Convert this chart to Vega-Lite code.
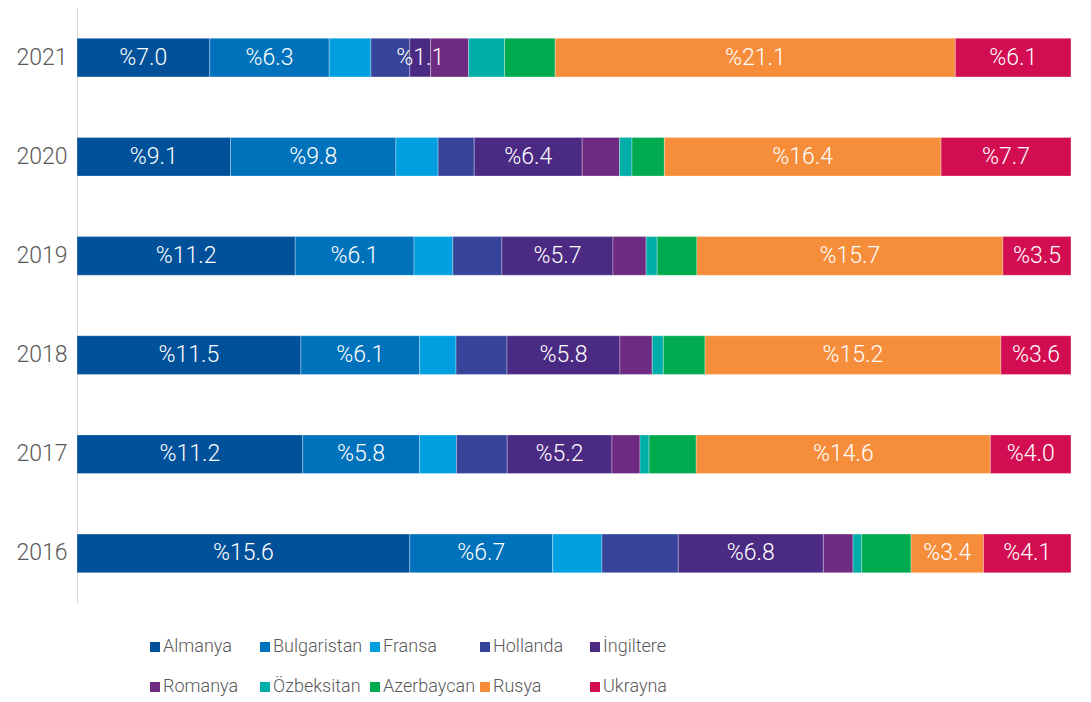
{
  "$schema": "https://vega.github.io/schema/vega-lite/v6.json",
  "width": 994,
  "height": 595,
  "autosize": {"type": "none"},
  "padding": {"left": 77, "top": 8, "right": 20, "bottom": 99},
  "background": "white",
  "config": {
    "view": {"stroke": null},
    "font": "Roboto",
    "axis": {"labelFont": "Roboto", "titleFont": "Roboto"},
    "legend": {"labelFont": "Roboto"}
  },
  "data": {
    "values": [
      {"year": "2021", "country": "Almanya", "o": 1, "v": 7.0},
      {"year": "2021", "country": "Bulgaristan", "o": 2, "v": 6.3},
      {"year": "2021", "country": "Fransa", "o": 3, "v": 2.2},
      {"year": "2021", "country": "Hollanda", "o": 4, "v": 2.05},
      {"year": "2021", "country": "İngiltere", "o": 5, "v": 1.1},
      {"year": "2021", "country": "Romanya", "o": 6, "v": 2.0},
      {"year": "2021", "country": "Özbeksitan", "o": 7, "v": 1.9},
      {"year": "2021", "country": "Azerbaycan", "o": 8, "v": 2.67},
      {"year": "2021", "country": "Rusya", "o": 9, "v": 21.1},
      {"year": "2021", "country": "Ukrayna", "o": 10, "v": 6.1},

      {"year": "2020", "country": "Almanya", "o": 1, "v": 9.1},
      {"year": "2020", "country": "Bulgaristan", "o": 2, "v": 9.8},
      {"year": "2020", "country": "Fransa", "o": 3, "v": 2.5},
      {"year": "2020", "country": "Hollanda", "o": 4, "v": 2.14},
      {"year": "2020", "country": "İngiltere", "o": 5, "v": 6.4},
      {"year": "2020", "country": "Romanya", "o": 6, "v": 2.21},
      {"year": "2020", "country": "Özbeksitan", "o": 7, "v": 0.74},
      {"year": "2020", "country": "Azerbaycan", "o": 8, "v": 1.92},
      {"year": "2020", "country": "Rusya", "o": 9, "v": 16.4},
      {"year": "2020", "country": "Ukrayna", "o": 10, "v": 7.7},

      {"year": "2019", "country": "Almanya", "o": 1, "v": 11.2},
      {"year": "2019", "country": "Bulgaristan", "o": 2, "v": 6.1},
      {"year": "2019", "country": "Fransa", "o": 3, "v": 1.99},
      {"year": "2019", "country": "Hollanda", "o": 4, "v": 2.52},
      {"year": "2019", "country": "İngiltere", "o": 5, "v": 5.7},
      {"year": "2019", "country": "Romanya", "o": 6, "v": 1.7},
      {"year": "2019", "country": "Özbeksitan", "o": 7, "v": 0.57},
      {"year": "2019", "country": "Azerbaycan", "o": 8, "v": 2.04},
      {"year": "2019", "country": "Rusya", "o": 9, "v": 15.7},
      {"year": "2019", "country": "Ukrayna", "o": 10, "v": 3.5},

      {"year": "2018", "country": "Almanya", "o": 1, "v": 11.5},
      {"year": "2018", "country": "Bulgaristan", "o": 2, "v": 6.1},
      {"year": "2018", "country": "Fransa", "o": 3, "v": 1.87},
      {"year": "2018", "country": "Hollanda", "o": 4, "v": 2.62},
      {"year": "2018", "country": "İngiltere", "o": 5, "v": 5.8},
      {"year": "2018", "country": "Romanya", "o": 6, "v": 1.66},
      {"year": "2018", "country": "Özbeksitan", "o": 7, "v": 0.57},
      {"year": "2018", "country": "Azerbaycan", "o": 8, "v": 2.14},
      {"year": "2018", "country": "Rusya", "o": 9, "v": 15.2},
      {"year": "2018", "country": "Ukrayna", "o": 10, "v": 3.6},

      {"year": "2017", "country": "Almanya", "o": 1, "v": 11.2},
      {"year": "2017", "country": "Bulgaristan", "o": 2, "v": 5.8},
      {"year": "2017", "country": "Fransa", "o": 3, "v": 1.83},
      {"year": "2017", "country": "Hollanda", "o": 4, "v": 2.52},
      {"year": "2017", "country": "İngiltere", "o": 5, "v": 5.2},
      {"year": "2017", "country": "Romanya", "o": 6, "v": 1.39},
      {"year": "2017", "country": "Özbeksitan", "o": 7, "v": 0.45},
      {"year": "2017", "country": "Azerbaycan", "o": 8, "v": 2.34},
      {"year": "2017", "country": "Rusya", "o": 9, "v": 14.6},
      {"year": "2017", "country": "Ukrayna", "o": 10, "v": 4.0},

      {"year": "2016", "country": "Almanya", "o": 1, "v": 15.6},
      {"year": "2016", "country": "Bulgaristan", "o": 2, "v": 6.7},
      {"year": "2016", "country": "Fransa", "o": 3, "v": 2.31},
      {"year": "2016", "country": "Hollanda", "o": 4, "v": 3.58},
      {"year": "2016", "country": "İngiltere", "o": 5, "v": 6.8},
      {"year": "2016", "country": "Romanya", "o": 6, "v": 1.39},
      {"year": "2016", "country": "Özbeksitan", "o": 7, "v": 0.41},
      {"year": "2016", "country": "Azerbaycan", "o": 8, "v": 2.31},
      {"year": "2016", "country": "Rusya", "o": 9, "v": 3.4},
      {"year": "2016", "country": "Ukrayna", "o": 10, "v": 4.1}
    ]
  },
  "transform": [
    {"stack": "v", "groupby": ["year"], "sort": [{"field": "o", "order": "ascending"}], "as": ["v0", "v1"], "offset": "normalize"},
    {"calculate": "(datum.v0 + datum.v1) / 2", "as": "mid"},
    {"calculate": "'%' + format(datum.v, '.1f')", "as": "label"}
  ],
  "encoding": {
    "y": {
      "field": "year",
      "type": "ordinal",
      "sort": "descending",
      "title": null,
      "scale": {"paddingInner": 0.61, "paddingOuter": 0.305},
      "axis": {
        "ticks": false,
        "domainColor": "#d9d9d9",
        "domainWidth": 1,
        "labelFontSize": 23,
        "labelColor": "#595959",
        "labelPadding": 10,
        "labelFontWeight": 300
      }
    }
  },
  "layer": [
    {
      "mark": {"type": "bar", "stroke": "white", "strokeWidth": 0.6, "strokeOpacity": 0.5},
      "encoding": {
        "x": {"field": "v0", "type": "quantitative", "axis": null, "scale": {"domain": [0, 1], "nice": false}},
        "x2": {"field": "v1"},
        "color": {
          "field": "country",
          "type": "nominal",
          "sort": ["Almanya", "Bulgaristan", "Fransa", "Hollanda", "İngiltere", "Romanya", "Özbeksitan", "Azerbaycan", "Rusya", "Ukrayna"],
          "scale": {
            "domain": ["Almanya", "Bulgaristan", "Fransa", "Hollanda", "İngiltere", "Romanya", "Özbeksitan", "Azerbaycan", "Rusya", "Ukrayna"],
            "range": ["#00519A", "#0072BB", "#009FDF", "#36449A", "#4B2A84", "#6F2A81", "#00AEA9", "#00AA4F", "#F68D3B", "#D30D52"]
          },
          "legend": {
            "title": null,
            "orient": "none",
            "direction": "horizontal",
            "columns": 5,
            "gridAlign": "all",
            "legendX": 69,
            "legendY": 630,
            "symbolType": "square",
            "symbolSize": 100,
            "symbolStrokeWidth": 0,
            "labelFontSize": 18,
            "labelFontWeight": 300,
            "labelColor": "#595959",
            "labelOffset": -1,
            "columnPadding": 0,
            "rowPadding": 22
          }
        }
      }
    },
    {
      "transform": [{"filter": {"field": "country", "oneOf": ["Almanya", "Bulgaristan", "İngiltere", "Rusya", "Ukrayna"]}}],
      "mark": {"type": "text", "color": "white", "fontSize": 23, "fontWeight": 300, "align": "center", "baseline": "middle"},
      "encoding": {
        "x": {"field": "mid", "type": "quantitative"},
        "text": {"field": "label"}
      }
    }
  ]
}
